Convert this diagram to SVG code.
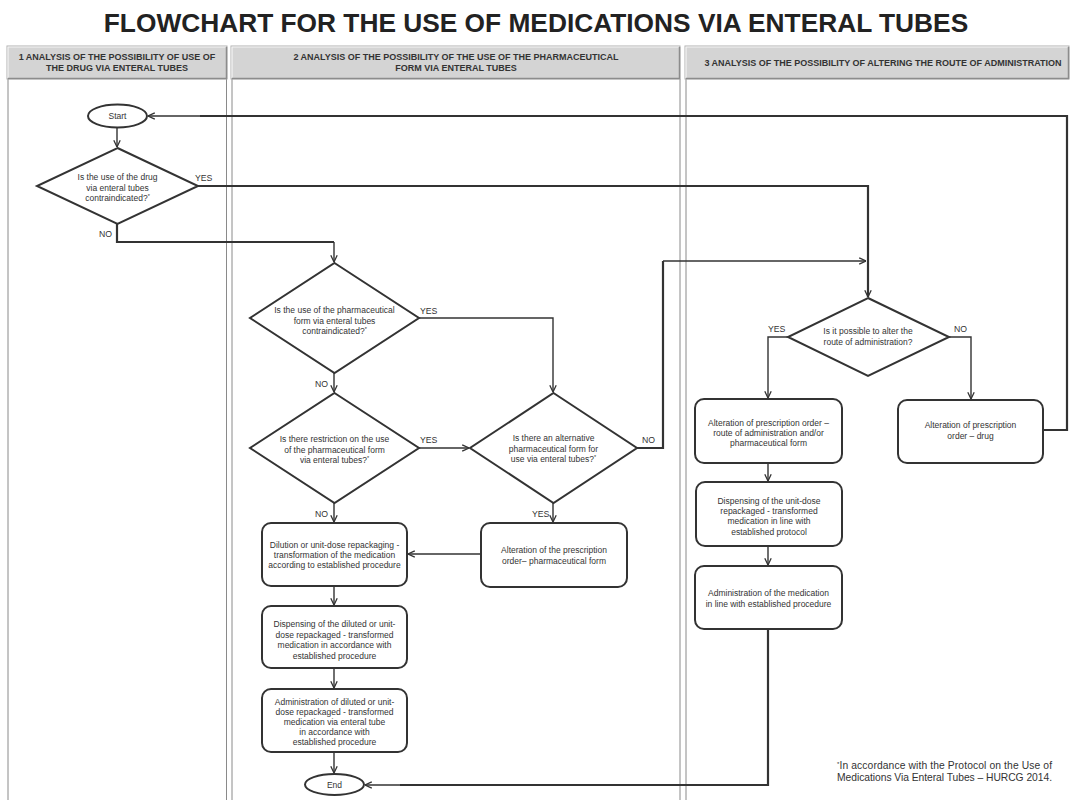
<svg xmlns="http://www.w3.org/2000/svg" width="1073" height="800" viewBox="0 0 1073 800">
<style>
text{font-family:"Liberation Sans",Arial,sans-serif;fill:#333}
.title{font-size:26.3px;font-weight:bold;fill:#222}
.hd{font-size:9px;font-weight:bold;fill:#333}
.t{font-size:8.5px;text-anchor:middle}
.lb{font-size:8.7px}
.fn{font-size:10.3px}
.node{fill:#fff;stroke:#333;stroke-width:2}
.lane{stroke:#8a8a8a;stroke-width:1;fill:none}
.hbox{fill:#d4d4d4;stroke:#b0b0b0;stroke-width:1}
.hl{stroke:#f4f4f4;stroke-width:1.2;fill:none}
.sh{stroke:#8c8c8c;stroke-width:1.5;fill:none}
.c{fill:none;stroke:#333;stroke-width:1.4}
.ck{fill:none;stroke:#333;stroke-width:2.2}
</style>
<defs>
<marker id="arr" viewBox="0 0 10 10" refX="9.5" refY="5" markerWidth="8" markerHeight="8" markerUnits="userSpaceOnUse" orient="auto">
<path d="M1,1 L9.5,5 L1,9" fill="none" stroke="#333" stroke-width="1.6"/>
</marker>
</defs>
<rect width="1073" height="800" fill="#fff"/>
<text class="title" x="536" y="32" text-anchor="middle">FLOWCHART FOR THE USE OF MEDICATIONS VIA ENTERAL TUBES</text>

<g id="lanes">
<line class="lane" x1="8" y1="79" x2="8" y2="800"/>
<line class="lane" x1="226.5" y1="79" x2="226.5" y2="800"/>
<line class="lane" x1="232" y1="79" x2="232" y2="800"/>
<line class="lane" x1="680" y1="79" x2="680" y2="800"/>
<line class="lane" x1="686" y1="79" x2="686" y2="800"/>
<rect class="hbox" x="7" y="46" width="220" height="33"/>
<path class="hl" d="M8,78 V47 H226"/>
<path class="sh" d="M8,78.5 H226.5 V47"/>
<rect class="hbox" x="231" y="46" width="449" height="33"/>
<path class="hl" d="M232,78 V47 H679"/>
<path class="sh" d="M232,78.5 H679.5 V47"/>
<rect class="hbox" x="685" y="46" width="384" height="33"/>
<path class="hl" d="M686,78 V47 H1068"/>
<path class="sh" d="M686,78.5 H1068.5 V47"/>
<text class="hd" x="117" y="60" text-anchor="middle">1 ANALYSIS OF THE POSSIBILITY OF USE OF</text>
<text class="hd" x="117" y="71" text-anchor="middle">THE DRUG VIA ENTERAL TUBES</text>
<text class="hd" x="456" y="60" text-anchor="middle">2 ANALYSIS OF THE POSSIBILITY OF THE USE OF THE PHARMACEUTICAL</text>
<text class="hd" x="456" y="71" text-anchor="middle">FORM VIA ENTERAL TUBES</text>
<text class="hd" x="883" y="66" text-anchor="middle">3 ANALYSIS OF THE POSSIBILITY OF ALTERING THE ROUTE OF ADMINISTRATION</text>
</g>

<g id="connectors">
<path class="c" d="M117,127 V147" marker-end="url(#arr)"/>
<path class="ck" d="M198,186 H868 V297" marker-end="url(#arr)"/>
<path class="ck" d="M117,224 V242 H334"/>
<path class="c" d="M334,242 V262" marker-end="url(#arr)"/>
<path class="c" d="M419,318 H553 V392" marker-end="url(#arr)"/>
<path class="c" d="M334,373 V392" marker-end="url(#arr)"/>
<path class="c" d="M419,448 H469" marker-end="url(#arr)"/>
<path class="c" d="M334,503 V522" marker-end="url(#arr)"/>
<path class="c" d="M553,503 V522" marker-end="url(#arr)"/>
<path class="ck" d="M637,448 H663 V261"/>
<path class="c" d="M663,261 H866" marker-end="url(#arr)"/>
<path class="c" d="M481,554 H408" marker-end="url(#arr)"/>
<path class="c" d="M334,586 V605" marker-end="url(#arr)"/>
<path class="c" d="M334,668 V688" marker-end="url(#arr)"/>
<path class="c" d="M334,752 V773" marker-end="url(#arr)"/>
<path class="c" d="M788,337 H768 V398" marker-end="url(#arr)"/>
<path class="c" d="M949,337 H971 V399" marker-end="url(#arr)"/>
<path class="c" d="M768,463 V481" marker-end="url(#arr)"/>
<path class="c" d="M768,546 V565" marker-end="url(#arr)"/>
<path class="ck" d="M768,629 V785 H400"/>
<path class="c" d="M400,785 H365" marker-end="url(#arr)"/>
<path class="ck" d="M1043,430 H1067 V116 H200"/>
<path class="c" d="M200,116 H148" marker-end="url(#arr)"/>
<text class="lb" x="195" y="181">YES</text>
<text class="lb" x="99" y="237">NO</text>
<text class="lb" x="420" y="314">YES</text>
<text class="lb" x="315" y="387">NO</text>
<text class="lb" x="420" y="443">YES</text>
<text class="lb" x="642" y="443">NO</text>
<text class="lb" x="315" y="517">NO</text>
<text class="lb" x="532" y="517">YES</text>
<text class="lb" x="768" y="332">YES</text>
<text class="lb" x="954" y="332">NO</text>
</g>

<g id="start">
<ellipse class="node" cx="117.5" cy="116" rx="29.5" ry="11.5"/>
<text class="t" x="117.5" y="119">Start</text>
</g>
<g id="d1">
<polygon class="node" points="117.5,148 198,186 117.5,224 37,186"/>
<text class="t" x="117.5" y="180">Is the use of the drug</text>
<text class="t" x="117.5" y="190.5">via enteral tubes</text>
<text class="t" x="117.5" y="201">contraindicated?<tspan font-size="5.5" dy="-3">*</tspan></text>
</g>
<g id="d2a">
<polygon class="node" points="334.5,263 419,318 334.5,373 250,318"/>
<text class="t" x="334.5" y="313">Is the use of the pharmaceutical</text>
<text class="t" x="334.5" y="323.5">form via enteral tubes</text>
<text class="t" x="334.5" y="334">contraindicated?<tspan font-size="5.5" dy="-3">*</tspan></text>
</g>
<g id="d2b">
<polygon class="node" points="334.5,393 419,448 334.5,503 250,448"/>
<text class="t" x="334.5" y="442">Is there restriction on the use</text>
<text class="t" x="334.5" y="452.5">of the pharmaceutical form</text>
<text class="t" x="334.5" y="463">via enteral tubes?<tspan font-size="5.5" dy="-3">*</tspan></text>
</g>
<g id="d2c">
<polygon class="node" points="553.5,393 637,448 553.5,503 470,448"/>
<text class="t" x="553.5" y="441">Is there an alternative</text>
<text class="t" x="553.5" y="451.5">pharmaceutical form for</text>
<text class="t" x="553.5" y="462">use via enteral tubes?<tspan font-size="5.5" dy="-3">*</tspan></text>
</g>
<g id="dilution">
<rect class="node" x="262" y="523" width="145" height="63" rx="9"/>
<text class="t" x="334.5" y="548">Dilution or unit-dose repackaging -</text>
<text class="t" x="334.5" y="558">transformation of the medication</text>
<text class="t" x="334.5" y="568">according to established procedure</text>
</g>
<g id="altpharm">
<rect class="node" x="481" y="523" width="146" height="64" rx="9"/>
<text class="t" x="554" y="553">Alteration of the prescription</text>
<text class="t" x="554" y="563.5">order– pharmaceutical form</text>
</g>
<g id="dispensing">
<rect class="node" x="262" y="606" width="145" height="62" rx="9"/>
<text class="t" x="334.5" y="627">Dispensing of the diluted or unit-</text>
<text class="t" x="334.5" y="637.5">dose repackaged - transformed</text>
<text class="t" x="334.5" y="648">medication in accordance with</text>
<text class="t" x="334.5" y="658.5">established procedure</text>
</g>
<g id="admin">
<rect class="node" x="262" y="689" width="145" height="63" rx="9"/>
<text class="t" x="334.5" y="705">Administration of diluted or unit-</text>
<text class="t" x="334.5" y="715">dose repackaged - transformed</text>
<text class="t" x="334.5" y="725">medication via enteral tube</text>
<text class="t" x="334.5" y="735">in accordance with</text>
<text class="t" x="334.5" y="745">established procedure</text>
</g>
<g id="end">
<ellipse class="node" cx="334.5" cy="784.5" rx="29.5" ry="10.5"/>
<text class="t" x="334.5" y="787.5">End</text>
</g>
<g id="d3">
<polygon class="node" points="868,298 949,337 868,376 788,337"/>
<text class="t" x="868" y="334">Is it possible to alter the</text>
<text class="t" x="868" y="344.5">route of administration?</text>
</g>
<g id="altroute">
<rect class="node" x="695" y="399" width="147" height="64" rx="9"/>
<text class="t" x="768.5" y="426">Alteration of prescription order –</text>
<text class="t" x="768.5" y="436">route of administration and/or</text>
<text class="t" x="768.5" y="446">pharmaceutical form</text>
</g>
<g id="altdrug">
<rect class="node" x="898" y="400" width="145" height="63" rx="9"/>
<text class="t" x="970.5" y="428">Alteration of prescription</text>
<text class="t" x="970.5" y="439">order – drug</text>
</g>
<g id="disp3">
<rect class="node" x="696" y="482" width="146" height="64" rx="9"/>
<text class="t" x="769" y="504">Dispensing of the unit-dose</text>
<text class="t" x="769" y="514">repackaged - transformed</text>
<text class="t" x="769" y="524">medication in line with</text>
<text class="t" x="769" y="535">established protocol</text>
</g>
<g id="admin3">
<rect class="node" x="695" y="566" width="147" height="63" rx="9"/>
<text class="t" x="768.5" y="596">Administration of the medication</text>
<text class="t" x="768.5" y="607">in line with established procedure</text>
</g>
<g id="footnote">
<text class="fn" x="837" y="769" textLength="215" lengthAdjust="spacing"><tspan font-size="6" dy="-3">*</tspan><tspan dy="3">In accordance with the Protocol on the Use of</tspan></text>
<text class="fn" x="837" y="781" textLength="215" lengthAdjust="spacing">Medications Via Enteral Tubes – HURCG 2014.</text>
</g>
</svg>
